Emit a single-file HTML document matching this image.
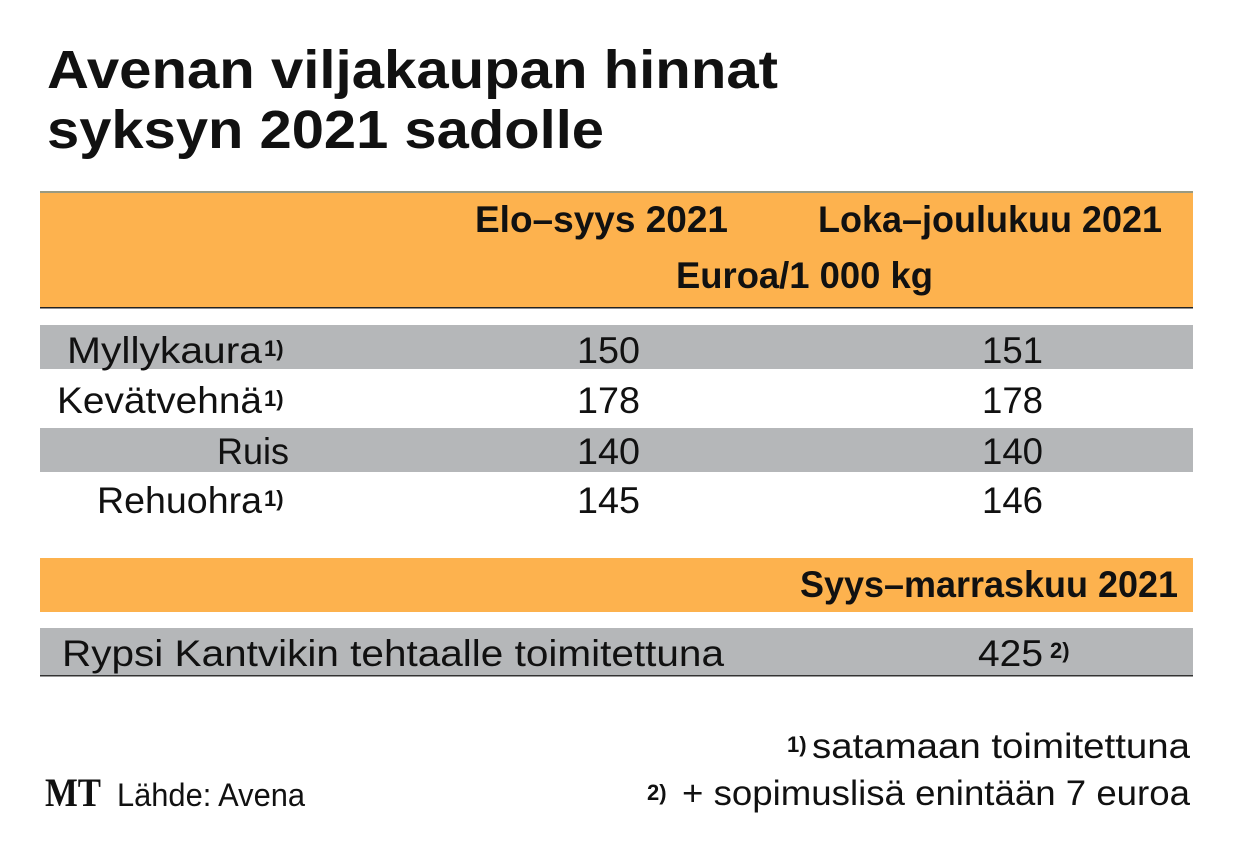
<!DOCTYPE html>
<html><head><meta charset="utf-8"><style>
html,body{margin:0;padding:0;background:#fff;width:1240px;height:854px;overflow:hidden}
svg text{font-family:"Liberation Sans",sans-serif;fill:#111}
.b{font-weight:bold}
</style></head><body>
<svg width="1240" height="854" viewBox="0 0 1240 854" xmlns="http://www.w3.org/2000/svg">
<text x="47" y="88" class="b" font-size="54" textLength="731" lengthAdjust="spacingAndGlyphs">Avenan viljakaupan hinnat</text>
<text x="47" y="148" class="b" font-size="54" textLength="557" lengthAdjust="spacingAndGlyphs">syksyn 2021 sadolle</text>

<rect x="40" y="191" width="1153" height="2" fill="#9a9a80"/>
<rect x="40" y="193" width="1153" height="114" fill="#fdb24e"/>
<rect x="40" y="307" width="1153" height="1.5" fill="#222"/>
<text x="475" y="232" class="b" font-size="37" textLength="253" lengthAdjust="spacingAndGlyphs">Elo–syys 2021</text>
<text x="818" y="232" class="b" font-size="37" textLength="344" lengthAdjust="spacingAndGlyphs">Loka–joulukuu 2021</text>
<text x="676" y="288" class="b" font-size="37" textLength="257" lengthAdjust="spacingAndGlyphs">Euroa/1 000 kg</text>

<rect x="40" y="325" width="1153" height="44" fill="#b5b7b9"/>
<rect x="40" y="428" width="1153" height="44" fill="#b5b7b9"/>
<g font-size="37">
<text x="67" y="363" textLength="195" lengthAdjust="spacingAndGlyphs">Myllykaura</text>
<text x="264" y="356" class="b" font-size="22">1)</text>
<text x="577" y="363" textLength="63" lengthAdjust="spacingAndGlyphs">150</text>
<text x="982" y="363" textLength="61" lengthAdjust="spacingAndGlyphs">151</text>

<text x="57" y="413" textLength="205" lengthAdjust="spacingAndGlyphs">Kevätvehnä</text>
<text x="264" y="406" class="b" font-size="22">1)</text>
<text x="577" y="413" textLength="63" lengthAdjust="spacingAndGlyphs">178</text>
<text x="982" y="413" textLength="61" lengthAdjust="spacingAndGlyphs">178</text>

<text x="217" y="464" textLength="72" lengthAdjust="spacingAndGlyphs">Ruis</text>
<text x="577" y="464" textLength="63" lengthAdjust="spacingAndGlyphs">140</text>
<text x="982" y="464" textLength="61" lengthAdjust="spacingAndGlyphs">140</text>

<text x="97" y="513" textLength="165" lengthAdjust="spacingAndGlyphs">Rehuohra</text>
<text x="264" y="506" class="b" font-size="22">1)</text>
<text x="577" y="513" textLength="63" lengthAdjust="spacingAndGlyphs">145</text>
<text x="982" y="513" textLength="61" lengthAdjust="spacingAndGlyphs">146</text>
</g>

<rect x="40" y="558" width="1153" height="54" fill="#fdb24e"/>
<text x="800" y="597" class="b" font-size="37" textLength="378" lengthAdjust="spacingAndGlyphs">Syys–marraskuu 2021</text>

<rect x="40" y="628" width="1153" height="47" fill="#b5b7b9"/>
<rect x="40" y="675" width="1153" height="1.5" fill="#333"/>
<text x="62" y="666" font-size="37" textLength="662" lengthAdjust="spacingAndGlyphs">Rypsi Kantvikin tehtaalle toimitettuna</text>
<text x="978" y="666" font-size="37" textLength="65" lengthAdjust="spacingAndGlyphs">425</text>
<text x="1050" y="658" class="b" font-size="22">2)</text>

<text x="787" y="752" class="b" font-size="22">1)</text>
<text x="812" y="758" font-size="35" textLength="378" lengthAdjust="spacingAndGlyphs">satamaan toimitettuna</text>
<text x="647" y="800" class="b" font-size="22">2)</text>
<text x="682" y="805" font-size="35" textLength="508" lengthAdjust="spacingAndGlyphs">+ sopimuslisä enintään 7 euroa</text>

<text x="45" y="806" font-weight="bold" font-size="40" textLength="56" lengthAdjust="spacingAndGlyphs" style="font-family:'Liberation Serif',serif">MT</text>
<text x="117" y="806" font-size="32" fill="#222" textLength="188" lengthAdjust="spacingAndGlyphs">Lähde: Avena</text>
</svg>
</body></html>
